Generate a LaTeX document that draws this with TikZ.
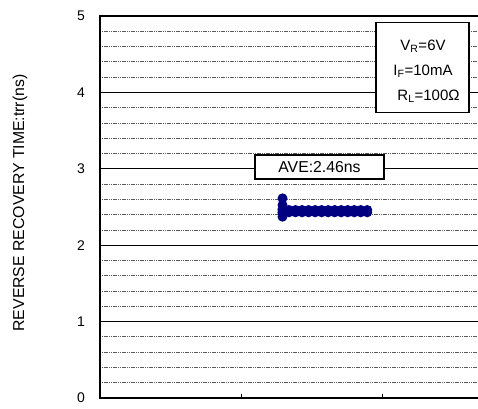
\documentclass[tikz,border=0pt]{standalone}
\usepackage{fontspec}
\setmainfont{Liberation Sans}
\definecolor{dotblue}{RGB}{0,0,128}
\definecolor{gridgray}{RGB}{90,90,90}
\begin{document}
\begin{tikzpicture}[x=1pt,y=-1pt,
  minorgrid/.style={draw=gridgray,line width=0.8pt,dash pattern=on 1.2pt off 0.6pt},
  majorgrid/.style={draw=black,line width=1pt},
  frame/.style={draw=black,line width=2pt},
  ticklab/.style={font=\fontsize{14}{16}\selectfont,anchor=center,inner sep=0pt},
  infobox/.style={draw=black,line width=1.5pt,fill=white,inner sep=0pt},
  boxtext/.style={font=\fontsize{15}{17}\selectfont,inner sep=0pt,anchor=base},
  dot/.style={fill=dotblue}]
\useasboundingbox (0,0) rectangle (478,408);
% grid lines
\foreach \i in {1,2,3,4,6,7,8,9,11,12,13,14,16,17,18,19,21,22,23,24}
  \draw[minorgrid] (100,{398-\i*76.4/5}) -- (478,{398-\i*76.4/5});
\foreach \v in {1,2,3,4}
  \draw[majorgrid] (100,{398-\v*76.4}) -- (478,{398-\v*76.4});
% frame
\coordinate (tl) at (100,16);
\coordinate (bl) at (100,398);
\coordinate (tr) at (478,16);
\coordinate (br) at (478,398);
\draw[frame] (tr) -- (tl) -- (bl) -- (br);
% x ticks
\foreach \x in {241,382}
  \draw[black,line width=1pt] (\x,398) -- (\x,394);
% y tick labels
\foreach \v in {0,1,2,3,4,5}
  \node[ticklab] (yl\v) at (81,{398-\v*76.4}) {\v};
% axis label
\node[font=\fontsize{15.8}{18}\selectfont,rotate=90,inner sep=0pt] (ylabel) at (20,203) {REVERSE RECOVERY TIME:trr(ns)};
% data points
\foreach \yy in {198.3,205,209,213,216.7}
  \fill[dot] (282.5,\yy) circle (5);
\foreach \k in {0,...,13}{
  \fill[dot] ({282.5+\k*6.52},210) circle (5);
  \fill[dot] ({282.5+\k*6.52},212.3) circle (5);
}
% AVE box
\node[infobox,minimum width=129pt,minimum height=24pt] (ave) at (319.5,167) {};
\node[font=\fontsize{15.8}{18}\selectfont,inner sep=0pt] (avetext) at (ave.center) {AVE:2.46ns};
% conditions box
\node[infobox,minimum width=93pt,minimum height=89.6pt] (cond) at (422.5,67.5) {};
\node[boxtext] (vr) at (423,50) {V\textsubscript{R}=6V};
\node[boxtext] (if) at (423,75) {I\textsubscript{F}=10mA};
\node[boxtext] (rl) at (428.5,100) {R\textsubscript{L}=100Ω};
\end{tikzpicture}
\end{document}
